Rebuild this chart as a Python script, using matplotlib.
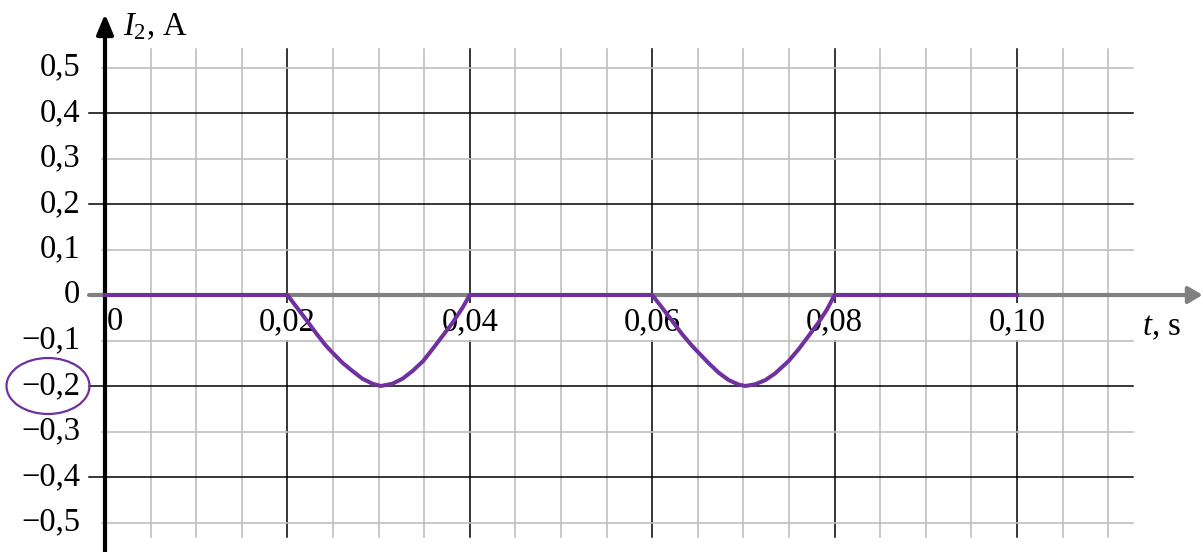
import matplotlib
matplotlib.use("Agg")
import matplotlib.pyplot as plt
from matplotlib.patches import Ellipse
import numpy as np

plt.rcParams['font.family'] = ['Liberation Serif', 'DejaVu Serif']
plt.rcParams['mathtext.fontset'] = 'custom'
plt.rcParams['mathtext.rm'] = 'Liberation Serif'
plt.rcParams['mathtext.it'] = 'Liberation Serif:italic'

# current I2 (A) vs time t (s)
t = [0.0, 0.0200, 0.02091, 0.02201, 0.02311, 0.02421, 0.02486, 0.02604, 0.02713,
     0.02823, 0.02933, 0.03024, 0.03152, 0.03262, 0.03372, 0.03489, 0.03591,
     0.03701, 0.03811, 0.03920, 0.0400,
     0.0600, 0.06109, 0.06219, 0.06328, 0.06438, 0.0650, 0.0662, 0.0673, 0.06839,
     0.06949, 0.07022, 0.07131, 0.07241, 0.0735, 0.07496, 0.07606, 0.07715,
     0.07825, 0.07916, 0.0800, 0.100]
i2 = [0.0, 0.0, -0.024, -0.053, -0.083, -0.111, -0.125, -0.149, -0.167,
      -0.184, -0.195, -0.200, -0.195, -0.184, -0.167, -0.145, -0.119,
      -0.090, -0.061, -0.028, 0.0,
      0.0, -0.028, -0.057, -0.086, -0.112, -0.125, -0.150, -0.171, -0.187,
      -0.197, -0.200, -0.196, -0.187, -0.172, -0.145, -0.119, -0.090,
      -0.060, -0.032, 0.0, 0.0]

y_ticks = [0.5, 0.4, 0.3, 0.2, 0.1, 0.0, -0.1, -0.2, -0.3, -0.4, -0.5]
y_labels = ["0,5", "0,4", "0,3", "0,2", "0,1", "0",
            "−0,1", "−0,2", "−0,3", "−0,4", "−0,5"]
x_ticks = [0.0, 0.02, 0.04, 0.06, 0.08, 0.10]
x_labels = ["0", "0,02", "0,04", "0,06", "0,08", "0,10"]

purple = "#7030A0"
fs = 23.5

fig = plt.figure(figsize=(12.03, 5.52), dpi=100)
ax = fig.add_axes([0, 0, 1, 1])
ax.set_xlim(-105 / 9120, 1098 / 9120)
ax.set_ylim(-257 / 455, 295 / 455)
ax.axis('off')

# grid
x_right = 0.1127
minor_x = np.arange(1, 23) * 0.005
for x in minor_x:
    major = abs(x / 0.02 - round(x / 0.02)) < 1e-6
    ax.plot([x, x], [0.541, -0.532], color="black" if major else "#bfbfbf",
            lw=1.1 if major else 1.2, zorder=1)
for y in y_ticks:
    if y == 0:
        continue
    major = abs(y * 10) % 2 < 1e-6
    ax.plot([-0.00175 if major else -0.0003, x_right], [y, y],
            color="black" if major else "#bfbfbf", lw=1.1 if major else 1.2, zorder=1)

# axes with arrows
ax.annotate("", xy=(0.12035, 0), xytext=(-0.00175, 0),
            arrowprops=dict(arrowstyle="-|>,head_length=0.42,head_width=0.25",
                            mutation_scale=20, color="#808080", lw=3,
                            shrinkA=0, shrinkB=0), zorder=3)
ax.annotate("", xy=(0, 0.6176), xytext=(0, -0.57),
            arrowprops=dict(arrowstyle="-|>,head_length=0.6,head_width=0.25",
                            mutation_scale=20, color="black", lw=3,
                            shrinkA=0, shrinkB=0), zorder=4)

# tick labels
for y, lab in zip(y_ticks, y_labels):
    ax.text(-0.00274, y, lab, ha="right", va="center", fontsize=fs, zorder=2)
for x, lab in zip(x_ticks, x_labels):
    if x == 0:
        ax.text(0.0002, -0.0593, lab, ha="left", va="center", fontsize=fs, zorder=2,
                bbox=dict(boxstyle="square,pad=0.1", fc="white", ec="none"))
    else:
        ax.text(x, -0.0593, lab, ha="center", va="center", fontsize=fs, zorder=2,
                bbox=dict(boxstyle="square,pad=0.1", fc="white", ec="none"))

ax.text(18 / 9120, 0.5714, r"$I_2$, A", ha="left", va="baseline", fontsize=fs)
ax.text((1142 - 105) / 9120, -0.0879, r"$t$, s", ha="left", va="baseline", fontsize=fs)

# data curve
ax.plot(t, i2, color=purple, lw=2.9, solid_joinstyle="round", zorder=5)

# highlight ellipse
ax.add_patch(Ellipse((-0.00625, -0.2), 0.0091, 0.123, fill=False, ec=purple,
                     lw=1.6, clip_on=False, zorder=6))

fig.savefig("out.png", dpi=100)
